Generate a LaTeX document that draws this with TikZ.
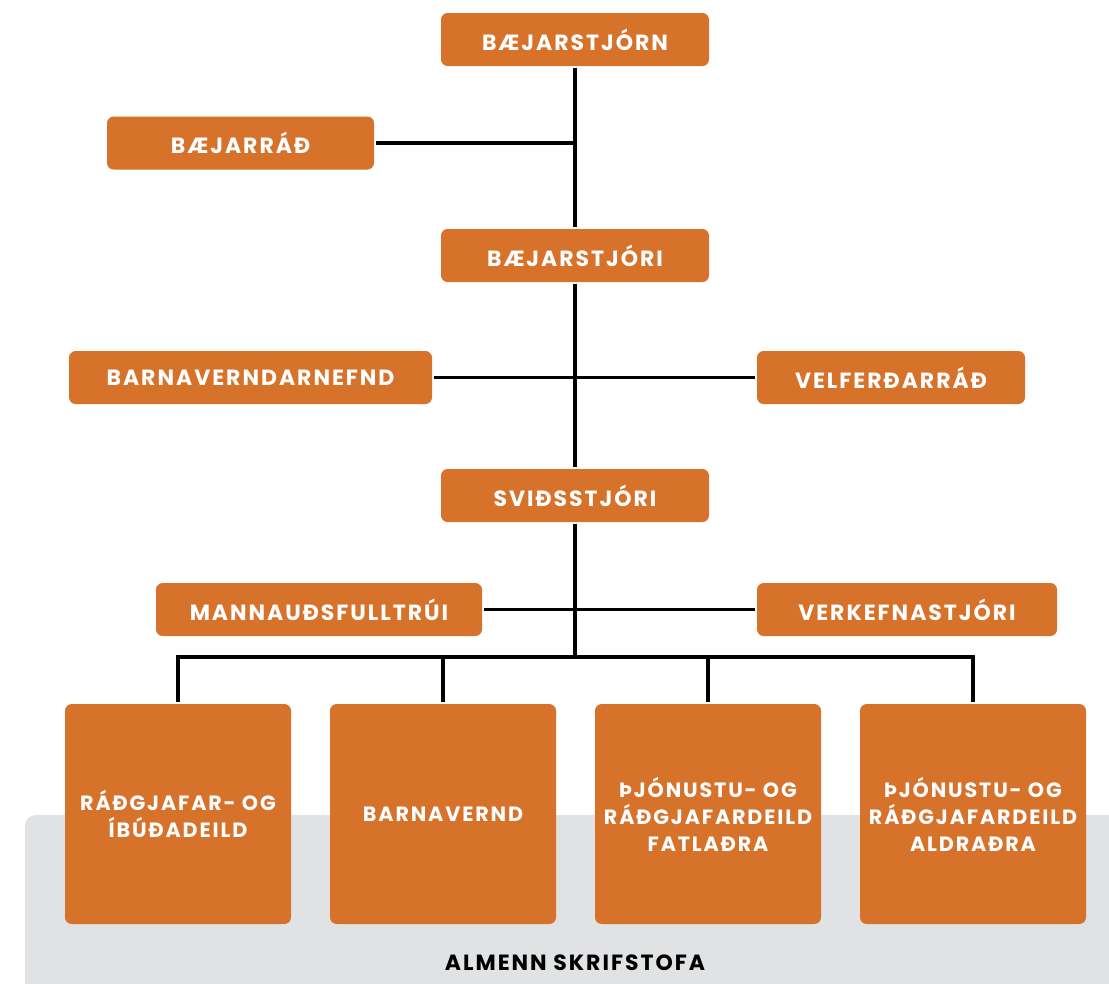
\documentclass[tikz,border=0pt]{standalone}
\usepackage{fontspec}
\setmainfont{Poppins}[LetterSpace=9]
\usepackage{xcolor}
\usepackage{tikz}
\definecolor{orgorange}{HTML}{D7722B}
\definecolor{orggray}{HTML}{E1E2E4}

\begin{document}
\begin{tikzpicture}[x=0.75pt,y=-0.75pt,line width=2.3pt,
                    unit/.style={fill=orgorange,rounded corners=5pt,text=white,
                      font=\fontsize{16.5}{20}\selectfont\bfseries,inner sep=0pt,
                      minimum height=53*0.75pt},
                    dept/.style={unit,minimum width=226*0.75pt,minimum height=220*0.75pt,
                      align=center,font=\fontsize{15.5}{20.3}\selectfont\bfseries}]
\useasboundingbox (0,0) rectangle (1109,983);
% office background
\fill[orggray,rounded corners=8pt] (25,815) rectangle (1140,1010);
\node[font=\fontsize{16.5}{20}\selectfont\bfseries] (office) at (575,963) {ALMENN SKRIFSTOFA};

\node[unit,minimum width=268*0.75pt] (stjorn) at (575,39.5) {BÆJARSTJÓRN};
\node[unit,minimum width=267*0.75pt] (rad) at (240.5,143) {BÆJARRÁÐ};
\node[unit,minimum width=268*0.75pt] (stjori) at (575,255.5) {BÆJARSTJÓRI};
\node[unit,minimum width=363*0.75pt] (barnanefnd) at (250.5,377.5) {BARNAVERNDARNEFND};
\node[unit,minimum width=268*0.75pt] (velferd) at (891,377.5) {VELFERÐARRÁÐ};
\node[unit,minimum width=268*0.75pt] (svid) at (575,495.5) {SVIÐSSTJÓRI};
\node[unit,minimum width=326*0.75pt] (mannaud) at (319,609.5) {MANNAUÐSFULLTRÚI};
\node[unit,minimum width=300*0.75pt] (verkefna) at (907,609.5) {VERKEFNASTJÓRI};

\node[dept] (ibud) at (178,814) {RÁÐGJAFAR- OG\\ÍBÚÐADEILD};
\node[dept] (barnavernd) at (443,814) {BARNAVERND};
\node[dept] (fatl) at (708,814) {ÞJÓNUSTU- OG\\RÁÐGJAFARDEILD\\FATLAÐRA};
\node[dept] (aldr) at (973,814) {ÞJÓNUSTU- OG\\RÁÐGJAFARDEILD\\ALDRAÐRA};

\coordinate (split) at (575,657);
\coordinate (leftend) at (ibud.north |- split);
\coordinate (rightend) at (aldr.north |- split);

\draw (stjorn) -- (stjori) -- (svid) -- (split);
\draw (rad) -- (rad -| stjorn);
\draw (barnanefnd) -- (velferd);
\draw (mannaud) -- (verkefna);
\draw (ibud.north) -- (leftend) -- (rightend) -- (aldr.north);
\draw (barnavernd.north) -- (barnavernd.north |- split);
\draw (fatl.north) -- (fatl.north |- split);
\end{tikzpicture}
\end{document}
